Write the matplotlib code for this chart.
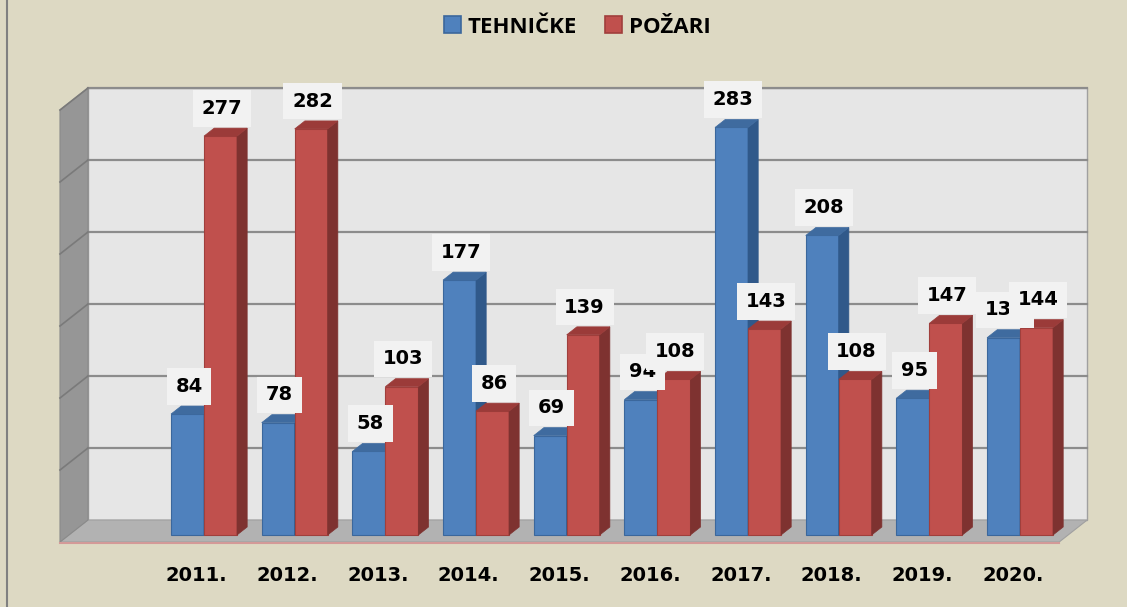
import numpy as np
import matplotlib.pyplot as plt
from matplotlib.patches import Polygon, Patch
from matplotlib.lines import Line2D

# data
years = ['2011.', '2012.', '2013.', '2014.', '2015.', '2016.', '2017.', '2018.', '2019.', '2020.']
tehnicke = [84, 78, 58, 177, 69, 94, 283, 208, 95, 137]
pozari = [277, 282, 103, 86, 139, 108, 143, 108, 147, 144]
series_names = ['TEHNIČKE', 'POŽARI']

# scale of the bars' front plane (pixels per category / per unit)
PX_X = 90.67
PX_Y = 1.44
W = 33 / PX_X  # bar width
XL, XR, YTOP = -1.49, 9.53, 300  # wall extent

FD = np.array([28 / PX_X, 22 / PX_Y])  # full floor depth
A, B = 7 / 22, 15 / 22  # bar front / back depth fractions


def off(f):
    return (f - A) * FD


def shifted(pts, f):
    o = off(f)
    return [(x + o[0], y + o[1]) for x, y in pts]


fig = plt.figure(figsize=(11.27, 6.07), dpi=100)
fig.patch.set_facecolor('#DDD9C3')
ax = fig.add_axes([0, 0, 1, 1])
ax.set_xlim(-204 / PX_X, (1127 - 204) / PX_X)
ax.set_ylim((535 - 607) / PX_Y, 535 / PX_Y)
ax.axis('off')

# walls and floor
back = shifted([(XL, 0), (XR, 0), (XR, YTOP), (XL, YTOP)], 1)
ax.add_patch(Polygon(back, closed=True, fc='#E6E6E6', ec='#A0A0A0', lw=1, zorder=1))
floor = shifted([(XL, 0), (XR, 0)], 0) + shifted([(XR, 0), (XL, 0)], 1)
ax.add_patch(Polygon(floor, closed=True, fc='#B2B2B2', ec='#A0A0A0', lw=0.8, zorder=1))
left = shifted([(XL, 0)], 0) + shifted([(XL, 0), (XL, YTOP)], 1) + shifted([(XL, YTOP)], 0)
ax.add_patch(Polygon(left, closed=True, fc='#969696', ec='#8A8A8A', lw=0.8, zorder=1))

for g in range(50, YTOP + 1, 50):
    p = shifted([(XL, g), (XR, g)], 1)
    ax.plot([p[0][0], p[1][0]], [p[0][1], p[1][1]], color='#8C8C8C', lw=1.6, zorder=1.5)
    q = shifted([(XL, g)], 0) + shifted([(XL, g)], 1)
    ax.plot([q[0][0], q[1][0]], [q[0][1], q[1][1]], color='#7A7A7A', lw=1.2, zorder=1.5)

# category axis line at the floor front
fe = shifted([(XL, 0), (XR, 0)], 0)
ax.plot([fe[0][0], fe[1][0]], [fe[0][1] - 0.8, fe[1][1] - 0.8], color='#D39A98', lw=1.5, zorder=1.6)

xs = np.arange(len(years))
bd = off(B) - off(A)  # bar depth


def bar3d(centers, vals, front, side, top, edge, z):
    ax.bar(centers, vals, width=W, color=front, edgecolor=edge, lw=0.8, zorder=z)
    for c, v in zip(centers, vals):
        r, l = c + W / 2, c - W / 2
        ax.add_patch(Polygon([(r, 0), (r + bd[0], bd[1]), (r + bd[0], v + bd[1]), (r, v)],
                             closed=True, fc=side, ec=side, lw=0.5, zorder=z))
        ax.add_patch(Polygon([(l, v), (r, v), (r + bd[0], v + bd[1]), (l + bd[0], v + bd[1])],
                             closed=True, fc=top, ec=top, lw=0.5, zorder=z))


bar3d(xs - W / 2, tehnicke, '#4F81BD', '#30598A', '#3F6B9F', '#3B679C', 3)
bar3d(xs + W / 2, pozari, '#C0504D', '#7E3230', '#9B3B39', '#A03F3C', 4)

lab_font = dict(family='DejaVu Sans', size=14, weight='bold', color='black')
box = dict(boxstyle='square,pad=0.45', fc='#F2F2F2', ec='none')
for c, v in zip(xs - W / 2, tehnicke):
    ax.annotate(str(v), (c, v), xytext=(1, 20), textcoords='offset points',
                ha='center', va='center', bbox=box, zorder=5, **lab_font)
for c, v in zip(xs + W / 2, pozari):
    ax.annotate(str(v), (c, v), xytext=(1, 20), textcoords='offset points',
                ha='center', va='center', bbox=box, zorder=6, **lab_font)

for x, y in zip(xs, years):
    ax.text(x - 0.08, -27.8, y, ha='center', va='center', **lab_font)

# legend
handles = [Patch(fc='#4F81BD', ec='#3B679C', lw=1.2), Patch(fc='#C0504D', ec='#A03F3C', lw=1.2)]
fig.legend(handles, series_names, loc='center', bbox_to_anchor=(577 / 1127, 1 - 27 / 607),
           ncol=2, frameon=False, handlelength=0.78, handleheight=0.78, handletextpad=0.3,
           columnspacing=1.25, prop=dict(family='Open Sans', size=16, weight='bold'))

fig.add_artist(Line2D([7 / 1127, 7 / 1127], [0, 1], transform=fig.transFigure, color='#808080', lw=1.5))

fig.savefig('out.png', dpi=100, facecolor=fig.get_facecolor())
